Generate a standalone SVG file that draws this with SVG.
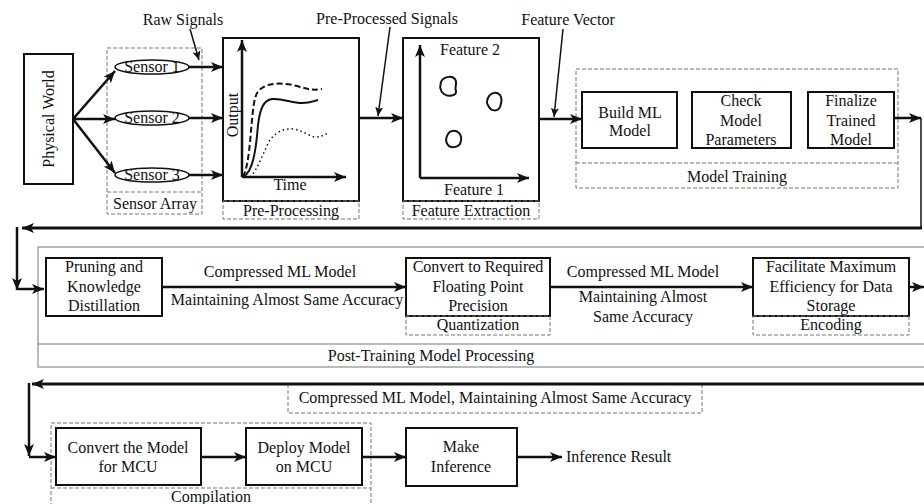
<svg xmlns="http://www.w3.org/2000/svg" width="924" height="504" viewBox="0 0 924 504" font-family="Liberation Serif, DejaVu Serif, serif" font-size="16">
<defs>
<style>
text{font-family:'Liberation Serif','DejaVu Serif',serif;font-size:16px;fill:#111}
.m{text-anchor:middle}
.box{fill:#fff;stroke:#111;stroke-width:2}
.ell{fill:#fff;stroke:#111;stroke-width:1.5}
.dash{fill:none;stroke:#777;stroke-width:1;stroke-dasharray:4 2}
.grey{fill:none;stroke:#777;stroke-width:1}
.c{fill:none;stroke:#111;stroke-width:2.5}
.ct{fill:none;stroke:#111;stroke-width:3}
.p{fill:none;stroke:#111;stroke-width:1.5}
.blob{fill:none;stroke:#111;stroke-width:2}
</style>
<marker id="ah" markerUnits="userSpaceOnUse" markerWidth="13" markerHeight="10" refX="12" refY="5" orient="auto">
<path d="M0,0 L12,5 L0,10 L3,5 Z" fill="#111"/>
</marker>
<marker id="as" markerUnits="userSpaceOnUse" markerWidth="10" markerHeight="8" refX="9" refY="4" orient="auto">
<path d="M0,0 L9,4 L0,8 L2,4 Z" fill="#111"/>
</marker>
</defs>

<g id="labels-top">
<text class="m" x="183" y="25">Raw Signals</text>
<text class="m" x="387" y="24">Pre-Processed Signals</text>
<text class="m" x="568" y="25">Feature Vector</text>
</g>

<g id="physical-world">
<rect class="box" x="24" y="54" width="49" height="130"/>
<text class="m" transform="translate(54,119) rotate(-90)">Physical World</text>
</g>

<g id="sensor-array">
<rect class="dash" x="107" y="48" width="95" height="166"/>
<line class="dash" x1="107" y1="192" x2="202" y2="192"/>
<text class="m" x="155" y="209">Sensor Array</text>
<g id="sensor1"><ellipse class="ell" cx="152" cy="67" rx="37" ry="7"/><text class="m" x="152" y="72">Sensor 1</text></g>
<g id="sensor2"><ellipse class="ell" cx="152" cy="118" rx="37" ry="7"/><text class="m" x="152" y="123">Sensor 2</text></g>
<g id="sensor3"><ellipse class="ell" cx="152" cy="175" rx="37" ry="7"/><text class="m" x="152" y="180">Sensor 3</text></g>
</g>

<g id="pre-processing">
<rect class="box" x="223" y="38" width="136" height="163"/>
<rect class="dash" x="223" y="201" width="136" height="18"/>
<text class="m" x="291" y="216">Pre-Processing</text>
<line class="c" x1="242" y1="177" x2="242" y2="40" marker-end="url(#ah)"/>
<line class="c" x1="242" y1="177" x2="346" y2="177" marker-end="url(#ah)"/>
<text class="m" transform="translate(238,115) rotate(-90)">Output</text>
<text class="m" x="290" y="190">Time</text>
<path d="M243,177 C249,165 250,140 252,120 C254,100 255,92 262,88 C270,82 285,83 297,86 C305,88 310,91 322,89" fill="none" stroke="#111" stroke-width="2" stroke-dasharray="6 3"/>
<path d="M243,177 C253,172 256,150 258,125 C260,108 264,100 272,99 C282,98 292,103 302,103 C310,103 314,101 318,100" fill="none" stroke="#111" stroke-width="2"/>
<path d="M250,177 C258,170 264,150 270,140 C276,132 284,128 294,129 C304,131 310,137 316,137 C321,137 324,135 328,133" fill="none" stroke="#111" stroke-width="1.5" stroke-dasharray="1.5 3"/>
</g>

<g id="feature-extraction">
<rect class="box" x="403" y="38" width="136" height="163"/>
<rect class="dash" x="403" y="201" width="136" height="18"/>
<text class="m" x="471" y="216">Feature Extraction</text>
<line class="c" x1="420" y1="178" x2="420" y2="45" marker-end="url(#ah)"/>
<line class="c" x1="420" y1="178" x2="529" y2="178" marker-end="url(#ah)"/>
<text class="m" x="470" y="55">Feature 2</text>
<text class="m" x="474" y="195">Feature 1</text>
<path class="blob" d="M441,82 C443,77 451,75 455,79 C458,83 454,87 456,91 C457,96 448,97 444,94 C439,90 440,86 441,82 Z"/>
<path class="blob" d="M488,98 C490,93 496,91 500,95 C503,99 501,104 500,107 C498,112 491,111 489,107 C487,104 486,102 488,98 Z"/>
<path class="blob" d="M448,134 C450,130 456,130 459,133 C463,137 461,141 460,144 C457,148 450,148 448,145 C445,142 446,137 448,134 Z"/>
</g>

<g id="model-training">
<rect class="dash" x="576" y="69" width="322" height="119"/>
<line class="dash" x1="576" y1="163" x2="898" y2="163"/>
<text class="m" x="737" y="182">Model Training</text>
<g id="build-ml-model"><rect class="box" x="582" y="92" width="95" height="56"/>
<text class="m" x="630" y="118">Build ML</text><text class="m" x="630" y="136">Model</text></g>
<g id="check-model-parameters"><rect class="box" x="692" y="92" width="99" height="56"/>
<text class="m" x="741" y="106">Check</text><text class="m" x="741" y="126">Model</text><text class="m" x="741" y="145">Parameters</text></g>
<g id="finalize-trained-model"><rect class="box" x="808" y="92" width="86" height="56"/>
<text class="m" x="851" y="106">Finalize</text><text class="m" x="851" y="126">Trained</text><text class="m" x="851" y="145">Model</text></g>
</g>

<g id="post-training">
<rect class="grey" x="38" y="247" width="900" height="120"/>
<line class="grey" x1="38" y1="344" x2="924" y2="344"/>
<text class="m" x="431" y="361">Post-Training Model Processing</text>
<g id="pruning"><rect class="box" x="46" y="258" width="116" height="58"/>
<text class="m" x="104" y="272">Pruning and</text><text class="m" x="104" y="292">Knowledge</text><text class="m" x="104" y="311">Distillation</text></g>
<g id="quantization"><rect class="box" x="406" y="258" width="144" height="58"/>
<rect class="dash" x="406" y="316" width="144" height="19"/>
<text class="m" x="478" y="272">Convert to Required</text><text class="m" x="478" y="292">Floating Point</text><text class="m" x="478" y="311">Precision</text>
<text class="m" x="478" y="330">Quantization</text></g>
<g id="encoding"><rect class="box" x="753" y="258" width="156" height="58"/>
<rect class="dash" x="753" y="316" width="156" height="19"/>
<text class="m" x="831" y="272">Facilitate Maximum</text><text class="m" x="831" y="292">Efficiency for Data</text><text class="m" x="831" y="311">Storage</text>
<text class="m" x="831" y="330">Encoding</text></g>
<text class="m" x="280" y="277">Compressed ML Model</text>
<text class="m" x="287" y="305">Maintaining Almost Same Accuracy</text>
<text class="m" x="643" y="277">Compressed ML Model</text>
<text class="m" x="643" y="302">Maintaining Almost</text>
<text class="m" x="643" y="322">Same Accuracy</text>
</g>

<g id="compressed-label">
<rect class="dash" x="288" y="384" width="414" height="29"/>
<text class="m" x="495" y="403">Compressed ML Model, Maintaining Almost Same Accuracy</text>
</g>

<g id="compilation">
<rect class="dash" x="51" y="423" width="320" height="82"/>
<line class="dash" x1="51" y1="488" x2="371" y2="488"/>
<text class="m" x="211" y="502">Compilation</text>
<g id="convert-model"><rect class="box" x="56" y="428" width="145" height="57"/>
<text class="m" x="128" y="453">Convert the Model</text><text class="m" x="128" y="472">for MCU</text></g>
<g id="deploy-model"><rect class="box" x="246" y="428" width="116" height="57"/>
<text class="m" x="304" y="453">Deploy Model</text><text class="m" x="304" y="472">on MCU</text></g>
</g>

<g id="make-inference">
<rect class="box" x="406" y="428" width="111" height="58"/>
<text class="m" x="461" y="452">Make</text><text class="m" x="461" y="472">Inference</text>
</g>
<g id="inference-result">
<text x="566" y="462">Inference Result</text>
</g>

<g id="connectors">
<line class="c" x1="73" y1="119" x2="115" y2="71" marker-end="url(#ah)"/>
<line class="c" x1="73" y1="119" x2="115" y2="119" marker-end="url(#ah)"/>
<line class="c" x1="73" y1="119" x2="115" y2="173" marker-end="url(#ah)"/>
<line class="c" x1="189" y1="67" x2="223" y2="67" marker-end="url(#ah)"/>
<line class="c" x1="189" y1="118" x2="223" y2="118" marker-end="url(#ah)"/>
<line class="c" x1="189" y1="175" x2="223" y2="175" marker-end="url(#ah)"/>
<line class="c" x1="359" y1="118" x2="403" y2="118" marker-end="url(#ah)"/>
<line class="c" x1="539" y1="119" x2="582" y2="119" marker-end="url(#ah)"/>
<line class="p" x1="190" y1="29" x2="199" y2="60" marker-end="url(#as)"/>
<line class="p" x1="390" y1="27" x2="378" y2="116" marker-end="url(#as)"/>
<line class="p" x1="563" y1="29" x2="554" y2="117" marker-end="url(#as)"/>
<line class="c" x1="894" y1="118" x2="921" y2="118" marker-end="url(#ah)"/>
<line class="p" x1="921" y1="118" x2="921" y2="228"/>
<line class="ct" x1="922" y1="228" x2="22" y2="228" marker-end="url(#ah)"/>
<line class="c" x1="17" y1="227" x2="17" y2="290" marker-end="url(#ah)"/>
<line class="c" x1="17" y1="289" x2="44" y2="289" marker-end="url(#ah)"/>
<line class="c" x1="162" y1="287" x2="406" y2="287" marker-end="url(#ah)"/>
<line class="c" x1="550" y1="287" x2="753" y2="287" marker-end="url(#ah)"/>
<line class="c" x1="909" y1="287" x2="924" y2="287" marker-end="url(#ah)"/>
<line class="ct" x1="924" y1="384" x2="32" y2="384" marker-end="url(#ah)"/>
<line class="c" x1="29" y1="383" x2="29" y2="456" marker-end="url(#ah)"/>
<line class="c" x1="29" y1="457" x2="56" y2="457" marker-end="url(#ah)"/>
<line class="c" x1="201" y1="457" x2="246" y2="457" marker-end="url(#ah)"/>
<line class="c" x1="362" y1="457" x2="406" y2="457" marker-end="url(#ah)"/>
<line class="c" x1="517" y1="457" x2="562" y2="457" marker-end="url(#ah)"/>
</g>
</svg>
